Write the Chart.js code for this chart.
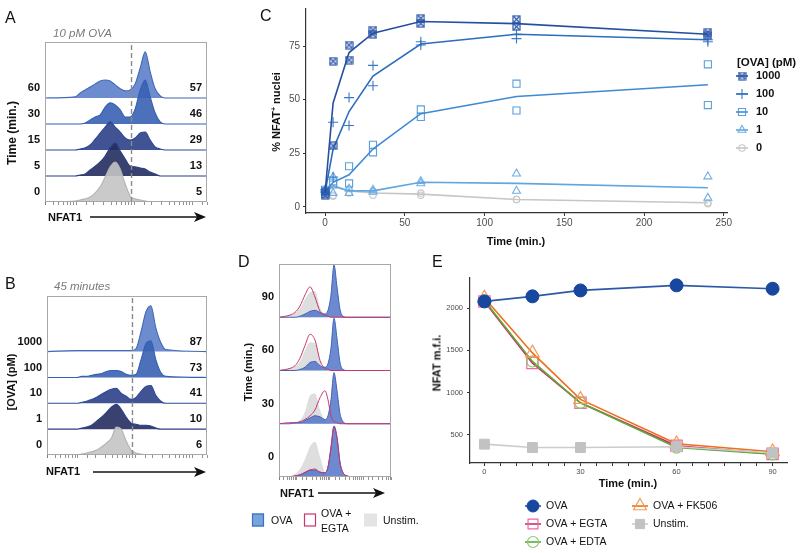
<!DOCTYPE html>
<html>
<head>
<meta charset="utf-8">
<title>NFAT1 nuclear translocation</title>
<script src="https://cdn.jsdelivr.net/npm/chart.js@4.4.1/dist/chart.umd.min.js"></script>
<style>
  body { margin: 0; background: #fff; }
  #fig { position: relative; width: 800px; height: 553px; overflow: hidden; font-family: "Liberation Sans", Arial, sans-serif; color: #111; }
  #fig canvas { position: absolute; left: 0; top: 0; }
  .lbl { position: absolute; white-space: nowrap; line-height: 1; transform: translate(0, -50%); }
  .mid { transform: translate(-50%, -50%); }
  .rot { transform: translate(-50%, -50%) rotate(-90deg); }
  .panel { font-size: 16px; }
  .cap { font-size: 11.5px; font-style: italic; color: #7a7a7a; }
  .ttl { font-size: 11px; font-weight: bold; }
  sup { font-size: 7px; vertical-align: 4px; }
</style>
</head>
<body>
<div id="fig">
  <canvas id="chartA" width="800" height="553"></canvas>
  <canvas id="chartB" width="800" height="553"></canvas>
  <canvas id="chartC" width="800" height="553"></canvas>
  <canvas id="chartD" width="800" height="553"></canvas>
  <canvas id="chartE" width="800" height="553"></canvas>

  <div class="lbl panel" style="left:5px;top:18px">A</div>
  <div class="lbl cap" style="left:53px;top:33.5px">10 pM OVA</div>
  <div class="lbl ttl rot" style="left:12px;top:133px;font-size:12px">Time (min.)</div>
  <div class="lbl ttl" style="left:48px;top:217px">NFAT1</div>

  <div class="lbl panel" style="left:5px;top:284px">B</div>
  <div class="lbl cap" style="left:54px;top:286.5px">45 minutes</div>
  <div class="lbl ttl rot" style="left:11px;top:382px">[OVA] (pM)</div>
  <div class="lbl ttl" style="left:46px;top:471px">NFAT1</div>

  <div class="lbl panel" style="left:260px;top:16px">C</div>
  <div class="lbl ttl rot" style="left:276px;top:112px">% NFAT<sup>+</sup> nuclei</div>
  <div class="lbl ttl mid" style="left:516px;top:241px">Time (min.)</div>

  <div class="lbl panel" style="left:238px;top:262px">D</div>
  <div class="lbl ttl rot" style="left:248px;top:372px">Time (min.)</div>
  <div class="lbl ttl" style="left:280px;top:493px">NFAT1</div>

  <div class="lbl panel" style="left:432px;top:262px">E</div>
  <div class="lbl ttl rot" style="left:437px;top:363px">NFAT m.f.i.</div>
  <div class="lbl ttl mid" style="left:628px;top:483px">Time (min.)</div>
</div>

<script>
  Chart.defaults.font.family = '"Liberation Sans", Arial, sans-serif';
  Chart.defaults.color = '#111';

  var W = 800, H = 553;
  var LABEL_LIFT = 0.38;   // row labels sit a bit above each ridge baseline

  // ---------------- A : 10 pM OVA, time course (ridges bottom -> top) ----------------
  var nfatAB = [29, 96, 117, 143, 174, 213, 259, 316, 385, 470, 574, 700, 853, 1040, 1270, 1550, 1890, 2300, 2810, 3420, 18000];
  var timeA = ['0', '5', '15', '30', '60'];
  var pctA = [5, 13, 29, 46, 57];
  var densA0 = [0, .04, .08, .12, .19, .35, .58, .96, 1.35, 1.54, 1.27, .69, .23, .12, .08, .04, 0, 0, 0, 0, 0];
  var densA5 = [0, 0, .04, .08, .23, .38, .54, .77, 1.08, 1.27, .96, .65, .38, .35, .31, .27, .15, .08, 0, 0, 0];
  var densA15 = [0, 0, .04, .08, .19, .42, .65, .88, 1.08, .88, .69, .46, .38, .46, .65, .69, .38, .12, .04, 0, 0];
  var densA30 = [0, 0, 0, .04, .15, .27, .35, .65, .81, .73, .54, .27, .27, .58, 1.31, 1.69, 1.04, .42, .08, 0, 0];
  var densA60 = [0, .04, .19, .31, .42, .54, .65, .69, .65, .50, .35, .27, .31, .54, 1.15, 1.77, 1.00, .35, .08, 0, 0];
  var gateNfat = 900;

  // ---------------- B : 45 minutes, OVA dose ----------------
  var doseB = ['0', '1', '10', '100', '1000'];
  var pctB = [6, 10, 41, 73, 87];
  var densB0 = [0, 0, .04, .08, .12, .19, .31, .46, .65, 1.08, 1.0, .54, .19, .08, .04, 0, 0, 0, 0, 0, 0];
  var densB1 = [0, 0, .04, .08, .15, .31, .46, .65, .85, .96, .77, .46, .23, .19, .15, .15, .12, .04, 0, 0, 0];
  var densB10 = [0, 0, .04, .08, .15, .23, .35, .46, .54, .58, .38, .27, .15, .23, .46, .65, .69, .31, .08, 0, 0];
  var densB100 = [0, 0, .04, .04, .08, .12, .15, .23, .27, .27, .23, .12, .08, .12, .69, 1.31, 1.42, .69, .19, .04, 0];
  var densB1000 = [0, .04, .04, .04, .04, .04, .04, .04, .04, .04, .04, .04, .04, .12, .77, 1.54, 1.77, .92, .35, .08, 0];

  var ridgeFill = ['rgba(196,196,196,0.9)', 'rgba(36,45,94,0.9)', 'rgba(44,64,134,0.9)', 'rgba(56,96,178,0.9)', 'rgba(92,128,202,0.9)'];
  var ridgeLine = ['#b4b4b4', '#2a3c86', '#2c4a98', '#3560b0', '#4169b5'];

  // ---------------- C : % NFAT+ nuclei over time ----------------
  var timesC = [0, 5, 15, 30, 60, 120, 240];
  var concC = ['1000', '100', '10', '1', '0'];
  var mean1000 = [7, 48.5, 72, 81, 86.5, 85.5, 80.5];
  var mean100 = [7, 27, 44.5, 61, 76, 80.5, 78];
  var mean10 = [7, 11.5, 15, 27, 43.5, 51.5, 57];
  var mean1 = [7.5, 10, 7.5, 7.5, 11.5, 11, 9];
  var mean0 = [7, 9.5, 7.5, 6.5, 6, 3.5, 2];
  var rep1000 = [[5.5, 7], [68, 28.5], [75.5, 68.5], [82.5, 80.5], [88, 85.5], [87.5, 84], [81.5, 80]];
  var rep100 = [[7, 8], [39.5, 14], [51, 38], [66, 56.5], [77, 75.5], [80.5, 78.5], [78, 77]];
  var rep10 = [[8, 6], [12, 10.5], [19, 11], [29, 25.5], [45.5, 42], [57.5, 45], [66.5, 47.5]];
  var rep1 = [[8, 7], [14, 6.5], [8.5, 6.5], [8, 7], [12, 11], [15.5, 7.5], [14.2, 4.2]];
  var rep0 = [[7, 6], [5.5, 5], [8.5, 6.5], [7.5, 5.5], [6.5, 5.5], [3.5, 3.5], [2, 1.5]];
  var xTicksC = [0, 50, 100, 150, 200, 250];
  var yTicksC = [0, 25, 50, 75];

  // ---------------- D : OVA / OVA + EGTA / Unstim. ----------------
  var nfatD = [28.5, 61, 87, 123, 175, 248, 351, 498, 705, 869, 1072, 1322, 1630, 2010, 2478, 3275, 5728, 70500];
  var timeD = ['0', '30', '60', '90'];
  var unstimD0 = [0, .02, .06, .15, .34, .57, .66, .38, .08, .02, 0, 0, 0, 0, 0, 0, 0, 0];
  var ovaD0 = [0, 0, .02, .04, .08, .13, .13, .09, .08, .19, .57, .96, .75, .28, .08, .02, 0, 0];
  var egtaD0 = [0, 0, .02, .04, .09, .13, .15, .09, .08, .19, .53, .94, .72, .26, .08, .02, 0, 0];
  var unstimD30 = [0, 0, .02, .06, .23, .53, .57, .26, .06, .02, 0, 0, 0, 0, 0, 0, 0, 0];
  var ovaD30 = [0, 0, .02, .02, .06, .11, .15, .13, .08, .15, .45, .96, .62, .19, .04, 0, 0, 0];
  var egtaD30 = [0, .02, .02, .04, .08, .15, .26, .49, .62, .45, .15, .04, .02, 0, 0, 0, 0, 0];
  var unstimD60 = [0, .04, .08, .17, .38, .53, .51, .19, .04, 0, 0, 0, 0, 0, 0, 0, 0, 0];
  var ovaD60 = [0, 0, 0, .02, .06, .15, .17, .09, .06, .13, .42, .98, .60, .15, .02, 0, 0, 0];
  var egtaD60 = [0, .04, .09, .23, .47, .68, .57, .19, .04, .02, 0, 0, 0, 0, 0, 0, 0, 0];
  var unstimD90 = [0, .04, .08, .17, .34, .47, .49, .19, .04, 0, 0, 0, 0, 0, 0, 0, 0, 0];
  var ovaD90 = [0, 0, 0, .02, .06, .11, .13, .09, .06, .13, .42, .98, .57, .15, .02, 0, 0, 0];
  var egtaD90 = [0, .04, .09, .21, .42, .57, .38, .11, .04, .02, 0, 0, 0, 0, 0, 0, 0, 0];

  // ---------------- E : NFAT m.f.i. ----------------
  var timesE = [0, 15, 30, 60, 90];
  var ovaE = [2080, 2140, 2210, 2270, 2230];
  var egtaE = [2080, 1350, 880, 370, 275];
  var edtaE = [2090, 1370, 880, 350, 270];
  var fk506E = [2120, 1470, 920, 395, 300];
  var unstimE = [390, 350, 350, 360, 285];
  var xLabelsE = [0, 30, 60, 90];
  var yTicksE = [500, 1000, 1500, 2000];


  /**
   * layout padding so the plot area lands on a given box of the page
   */
  function padFor(area, yW, xH) {
    return { left: area.l - yW, top: area.t, right: W - area.r, bottom: H - area.b - xH };
  }

  /**
   * grey frame round the plot area
   */
  function boxPlugin(color) {
    return {
      id: 'box',
      afterDatasetsDraw: function (chart) {
        var a = chart.chartArea, ctx = chart.ctx;
        ctx.save();
        ctx.strokeStyle = color;
        ctx.lineWidth = 1;
        ctx.strokeRect(a.left + 0.5, a.top + 0.5, a.right - a.left - 1, a.bottom - a.top - 1);
        ctx.restore();
      }
    };
  }

  /**
   * numbers on the right of each ridge + the NFAT1 arrow
   */
  function ridgeExtras(rightVals, arrow) {
    return {
      id: 'ridgeExtras',
      afterDraw: function (chart) {
        var ctx = chart.ctx, a = chart.chartArea, ys = chart.scales.y;
        ctx.save();
        if (rightVals) {
          ctx.font = 'bold 11px "Liberation Sans", Arial, sans-serif';
          ctx.fillStyle = '#111';
          ctx.textAlign = 'right';
          ctx.textBaseline = 'middle';
          rightVals.forEach(function (v, i) {
            ctx.fillText(String(v), a.right - 5, ys.getPixelForValue(i + LABEL_LIFT));
          });
        }
        var x1 = arrow[0], x2 = arrow[1], y = arrow[2];
        ctx.strokeStyle = '#111';
        ctx.fillStyle = '#111';
        ctx.lineWidth = 1.5;
        ctx.beginPath();
        ctx.moveTo(x1, y);
        ctx.lineTo(x2 - 8, y);
        ctx.stroke();
        ctx.beginPath();
        ctx.moveTo(x2, y);
        ctx.lineTo(x2 - 12, y - 5);
        ctx.lineTo(x2 - 9, y);
        ctx.lineTo(x2 - 12, y + 5);
        ctx.closePath();
        ctx.fill();
        ctx.restore();
      }
    };
  }

  function ridgeSet(grid, dens, base, fillColor, lineColor, lineWidth) {
    return {
      data: grid.map(function (x, i) { return { x: x, y: base + dens[i] }; }),
      backgroundColor: fillColor || 'rgba(0,0,0,0)',
      borderColor: lineColor,
      borderWidth: lineWidth,
      fill: fillColor ? { value: base } : false,
      pointRadius: 0,
      cubicInterpolationMode: 'monotone'
    };
  }

  function gateSet(x, yMax) {
    return {
      data: [{ x: x, y: 0 }, { x: x, y: yMax }],
      borderColor: '#8a8a8a',
      borderWidth: 1.4,
      borderDash: [5, 3],
      pointRadius: 0,
      fill: false
    };
  }

  function ridgeChart(id, cfg) {
    return new Chart(document.getElementById(id), {
      type: 'line',
      data: { datasets: cfg.datasets },
      options: {
        responsive: false,
        animation: false,
        devicePixelRatio: 1,
        layout: { padding: padFor(cfg.area, 40, 6) },
        plugins: { legend: { display: false }, tooltip: { enabled: false } },
        scales: {
          x: {
            type: 'logarithmic', min: cfg.xMin, max: cfg.xMax,
            afterFit: function (s) { s.height = 6; },
            border: { display: false },
            grid: { drawOnChartArea: false, tickLength: 3, color: '#777', lineWidth: 0.8 },
            ticks: { display: false, autoSkip: false }
          },
          y: {
            min: 0, max: cfg.yMax,
            afterFit: function (s) { s.width = 40; },
            afterBuildTicks: function (s) {
              s.ticks = cfg.rowLabels.map(function (_, i) { return { value: i + LABEL_LIFT }; });
            },
            border: { display: false },
            grid: { display: false, drawTicks: false },
            ticks: {
              autoSkip: false, padding: 5, color: '#111',
              font: { size: 11, weight: 'bold' },
              callback: function (v, i) { return cfg.rowLabels[i]; }
            }
          }
        }
      },
      plugins: cfg.plugins
    });
  }

  /**
   * legend drawn at fixed spots: line stub + marker + label
   */
  function pointLegend(items, font, title) {
    return {
      id: 'pointLegend',
      afterDraw: function (chart) {
        var ctx = chart.ctx;
        ctx.save();
        ctx.textBaseline = 'middle';
        ctx.textAlign = 'left';
        if (title) {
          ctx.fillStyle = '#111';
          ctx.font = title.font;
          ctx.fillText(title.text, title.x, title.y);
        }
        items.forEach(function (it) {
          var ln = chart.data.datasets[it.line], pt = chart.data.datasets[it.pts];
          ctx.strokeStyle = ln.borderColor;
          ctx.lineWidth = ln.borderWidth;
          ctx.beginPath();
          ctx.moveTo(it.x - it.w, it.y);
          ctx.lineTo(it.x + it.w, it.y);
          ctx.stroke();
          ctx.strokeStyle = pt.pointBorderColor;
          ctx.fillStyle = pt.pointBackgroundColor;
          ctx.lineWidth = pt.pointBorderWidth;
          if (Chart.helpers && Chart.helpers.drawPoint) {
            Chart.helpers.drawPoint(ctx, {
              pointStyle: pt.pointStyle, rotation: 0,
              radius: it.r || pt.pointRadius, borderWidth: pt.pointBorderWidth
            }, it.x, it.y);
          }
          ctx.fillStyle = '#111';
          ctx.font = font;
          ctx.fillText(pt.label, it.tx, it.y);
        });
        ctx.restore();
      }
    };
  }

  function boxCrossMarker(color) {
    var c = document.createElement('canvas');
    c.width = 9;
    c.height = 9;
    var g = c.getContext('2d');
    g.strokeStyle = color;
    g.lineWidth = 1.2;
    g.strokeRect(1, 1, 7, 7);
    g.beginPath();
    g.moveTo(1.5, 1.5); g.lineTo(7.5, 7.5);
    g.moveTo(7.5, 1.5); g.lineTo(1.5, 7.5);
    g.stroke();
    return c;
  }


  // ---------- A ----------
  var densA = [densA0, densA5, densA15, densA30, densA60];
  var dsA = [gateSet(gateNfat, 6.15)];
  densA.forEach(function (d, i) {
    dsA.push(ridgeSet(nfatAB, d, i, ridgeFill[i], ridgeLine[i], 1.1));
  });
  ridgeChart('chartA', {
    area: { l: 45, t: 42, r: 207, b: 202 },
    xMin: 29, xMax: 18000, yMax: 6.15,
    rowLabels: timeA,
    datasets: dsA,
    plugins: [boxPlugin('#a8a8a8'), ridgeExtras(pctA, [90, 206, 217])]
  });

  // ---------- B ----------
  var densB = [densB0, densB1, densB10, densB100, densB1000];
  var dsB = [gateSet(gateNfat, 6.15)];
  densB.forEach(function (d, i) {
    dsB.push(ridgeSet(nfatAB, d, i, ridgeFill[i], ridgeLine[i], 1.1));
  });
  ridgeChart('chartB', {
    area: { l: 47, t: 296, r: 207, b: 455 },
    xMin: 29, xMax: 18000, yMax: 6.15,
    rowLabels: doseB,
    datasets: dsB,
    plugins: [boxPlugin('#a8a8a8'), ridgeExtras(pctB, [93, 206, 472])]
  });

  // ---------- C ----------
  var meansC = [mean1000, mean100, mean10, mean1, mean0];
  var repsC = [rep1000, rep100, rep10, rep1, rep0];
  var lineColorC = ['#26509f', '#2e6cbc', '#3f8ad2', '#62a6e0', '#c6c6c6'];
  var pointColorC = ['#2a55a8', '#3a78c6', '#5a9ede', '#6fb0e6', '#c8c8c8'];
  var markerC = [boxCrossMarker('#2a55a8'), 'cross', 'rect', 'triangle', 'circle'];
  var radiusC = [4.5, 5, 5, 4.6, 3.2];

  var dsC = [];
  concC.forEach(function (conc, k) {
    dsC.push({
      label: conc,
      data: timesC.map(function (t, i) { return { x: t, y: meansC[k][i] }; }),
      borderColor: lineColorC[k],
      borderWidth: 1.6,
      pointRadius: 0,
      fill: false
    });
    dsC.push({
      label: conc,
      data: timesC.reduce(function (acc, t, i) {
        return acc.concat(repsC[k][i].map(function (v) { return { x: t, y: v }; }));
      }, []),
      showLine: false,
      pointStyle: markerC[k],
      pointRadius: radiusC[k],
      pointBorderColor: pointColorC[k],
      pointBackgroundColor: 'rgba(0,0,0,0)',
      pointBorderWidth: 1.1
    });
  });

  var legendItemsC = concC.map(function (c, k) {
    return { line: 2 * k, pts: 2 * k + 1, x: 742, y: 76 + 18 * k, w: 6, tx: 756 };
  });

  new Chart(document.getElementById('chartC'), {
    type: 'line',
    data: { datasets: dsC },
    options: {
      responsive: false,
      animation: false,
      devicePixelRatio: 1,
      layout: { padding: padFor({ l: 306, t: 6, r: 727, b: 213 }, 30, 20) },
      plugins: { legend: { display: false }, tooltip: { enabled: false } },
      scales: {
        x: {
          type: 'linear', min: -12, max: 252,
          afterBuildTicks: function (s) { s.ticks = xTicksC.map(function (v) { return { value: v }; }); },
          afterFit: function (s) { s.height = 20; },
          border: { color: '#333', width: 1.2 },
          grid: { drawOnChartArea: false, tickLength: 3, color: '#333' },
          ticks: { color: '#4d4d4d', font: { size: 10 }, padding: 1, autoSkip: false, maxRotation: 0 }
        },
        y: {
          min: -2.8, max: 92.3,
          afterBuildTicks: function (s) { s.ticks = yTicksC.map(function (v) { return { value: v }; }); },
          afterFit: function (s) { s.width = 30; },
          border: { color: '#333', width: 1.2 },
          grid: { drawOnChartArea: false, tickLength: 3, color: '#333' },
          ticks: { color: '#4d4d4d', font: { size: 10 }, padding: 3 }
        }
      }
    },
    plugins: [pointLegend(legendItemsC, 'bold 11px "Liberation Sans", Arial, sans-serif',
      { text: '[OVA] (pM)', x: 737, y: 63, font: 'bold 11.5px "Liberation Sans", Arial, sans-serif' })]
  });

  // ---------- D ----------
  var unstimD = [unstimD0, unstimD30, unstimD60, unstimD90];
  var ovaD = [ovaD0, ovaD30, ovaD60, ovaD90];
  var egtaD = [egtaD0, egtaD30, egtaD60, egtaD90];
  var dsD = [];
  timeD.forEach(function (t, i) {
    dsD.push(ridgeSet(nfatD, egtaD[i], i, null, '#c8346c', 1));
    dsD.push(ridgeSet(nfatD, ovaD[i], i, 'rgba(84,118,200,0.85)', '#3d63b8', 1));
    dsD.push(ridgeSet(nfatD, unstimD[i], i, 'rgba(214,214,214,0.8)', 'rgba(0,0,0,0)', 0));
  });

  var swatchD = [
    { x: 252, w: 12, fill: '#76a5dc', stroke: '#3c6fc2', text: ['OVA'], tx: 271 },
    { x: 304, w: 12, fill: '#ffffff', stroke: '#c8346c', text: ['OVA +', 'EGTA'], tx: 321 },
    { x: 364, w: 13, fill: '#e4e4e4', stroke: null, text: ['Unstim.'], tx: 383 }
  ];
  var legendD = {
    id: 'legendD',
    afterDraw: function (chart) {
      var ctx = chart.ctx;
      ctx.save();
      ctx.font = '10.5px "Liberation Sans", Arial, sans-serif';
      ctx.textBaseline = 'middle';
      ctx.textAlign = 'left';
      swatchD.forEach(function (s) {
        ctx.fillStyle = s.fill;
        ctx.fillRect(s.x, 513.5, s.w, 13);
        if (s.stroke) {
          ctx.strokeStyle = s.stroke;
          ctx.lineWidth = 1.2;
          ctx.strokeRect(s.x + 0.5, 514, s.w - 1, 12);
        }
        ctx.fillStyle = '#111';
        if (s.text.length === 1) {
          ctx.fillText(s.text[0], s.tx, 521);
        } else {
          ctx.fillText(s.text[0], s.tx, 514);
          ctx.fillText(s.text[1], s.tx, 529);
        }
      });
      ctx.restore();
    }
  };

  ridgeChart('chartD', {
    area: { l: 279, t: 264, r: 391, b: 477 },
    xMin: 28.5, xMax: 70500, yMax: 4.0,
    rowLabels: timeD,
    datasets: dsD,
    plugins: [boxPlugin('#a8a8a8'), ridgeExtras(null, [318, 385, 493]), legendD]
  });

  // ---------- E ----------
  function seriesE(label, vals, lineColor, style, radius, ptBorder, ptFill, ptWidth) {
    return {
      label: label,
      data: timesE.map(function (t, i) { return { x: t, y: vals[i] }; }),
      borderColor: lineColor,
      borderWidth: 1.6,
      fill: false,
      pointStyle: style,
      pointRadius: radius,
      pointBorderColor: ptBorder,
      pointBackgroundColor: ptFill,
      pointBorderWidth: ptWidth
    };
  }

  var dsE = [
    seriesE('OVA', ovaE, '#2b59a8', 'circle', 6.5, '#17479e', '#17479e', 1),
    seriesE('Unstim.', unstimE, '#cccccc', 'rect', 7, '#c2c2c2', '#c2c2c2', 1),
    seriesE('OVA + FK506', fk506E, '#ee6e1c', 'triangle', 7.8, '#f59a55', 'rgba(0,0,0,0)', 1.2),
    seriesE('OVA + EDTA', edtaE, '#5aab3a', 'circle', 5.6, '#8bc86a', 'rgba(0,0,0,0)', 1.2),
    seriesE('OVA + EGTA', egtaE, '#d42a6a', 'rect', 8, '#ea6aa2', 'rgba(0,0,0,0)', 1.2)
  ];

  var legendItemsE = [
    { line: 0, pts: 0, x: 533, y: 506, w: 8, tx: 546, r: 6 },
    { line: 4, pts: 4, x: 533, y: 524, w: 8, tx: 546, r: 7 },
    { line: 3, pts: 3, x: 533, y: 542, w: 8, tx: 546, r: 5.5 },
    { line: 2, pts: 2, x: 640, y: 506, w: 8, tx: 653, r: 7.5 },
    { line: 1, pts: 1, x: 640, y: 524, w: 8, tx: 653, r: 6.5 }
  ];

  new Chart(document.getElementById('chartE'), {
    type: 'line',
    data: { datasets: dsE },
    options: {
      responsive: false,
      animation: false,
      devicePixelRatio: 1,
      layout: { padding: padFor({ l: 470, t: 278, r: 787, b: 463 }, 28, 16) },
      plugins: { legend: { display: false }, tooltip: { enabled: false } },
      scales: {
        x: {
          type: 'linear', min: -4.5, max: 94.5,
          afterBuildTicks: function (s) {
            var t = [];
            for (var v = 0; v <= 90; v += 5) t.push({ value: v });
            s.ticks = t;
          },
          afterFit: function (s) { s.height = 16; },
          border: { color: '#333', width: 1.2 },
          grid: { drawOnChartArea: false, tickLength: 3, color: '#333' },
          ticks: {
            color: '#4d4d4d', font: { size: 7.5 }, padding: 1, autoSkip: false, maxRotation: 0,
            callback: function (v) { return xLabelsE.indexOf(v) >= 0 ? String(v) : ''; }
          }
        },
        y: {
          min: 167, max: 2357,
          afterBuildTicks: function (s) { s.ticks = yTicksE.map(function (v) { return { value: v }; }); },
          afterFit: function (s) { s.width = 28; },
          border: { color: '#333', width: 1.2 },
          grid: { drawOnChartArea: false, tickLength: 3, color: '#333' },
          ticks: {
            color: '#4d4d4d', font: { size: 7.5 }, padding: 4,
            callback: function (v) { return String(v); }
          }
        }
      }
    },
    plugins: [pointLegend(legendItemsE, '10.5px "Liberation Sans", Arial, sans-serif', null)]
  });
</script>
</body>
</html>
